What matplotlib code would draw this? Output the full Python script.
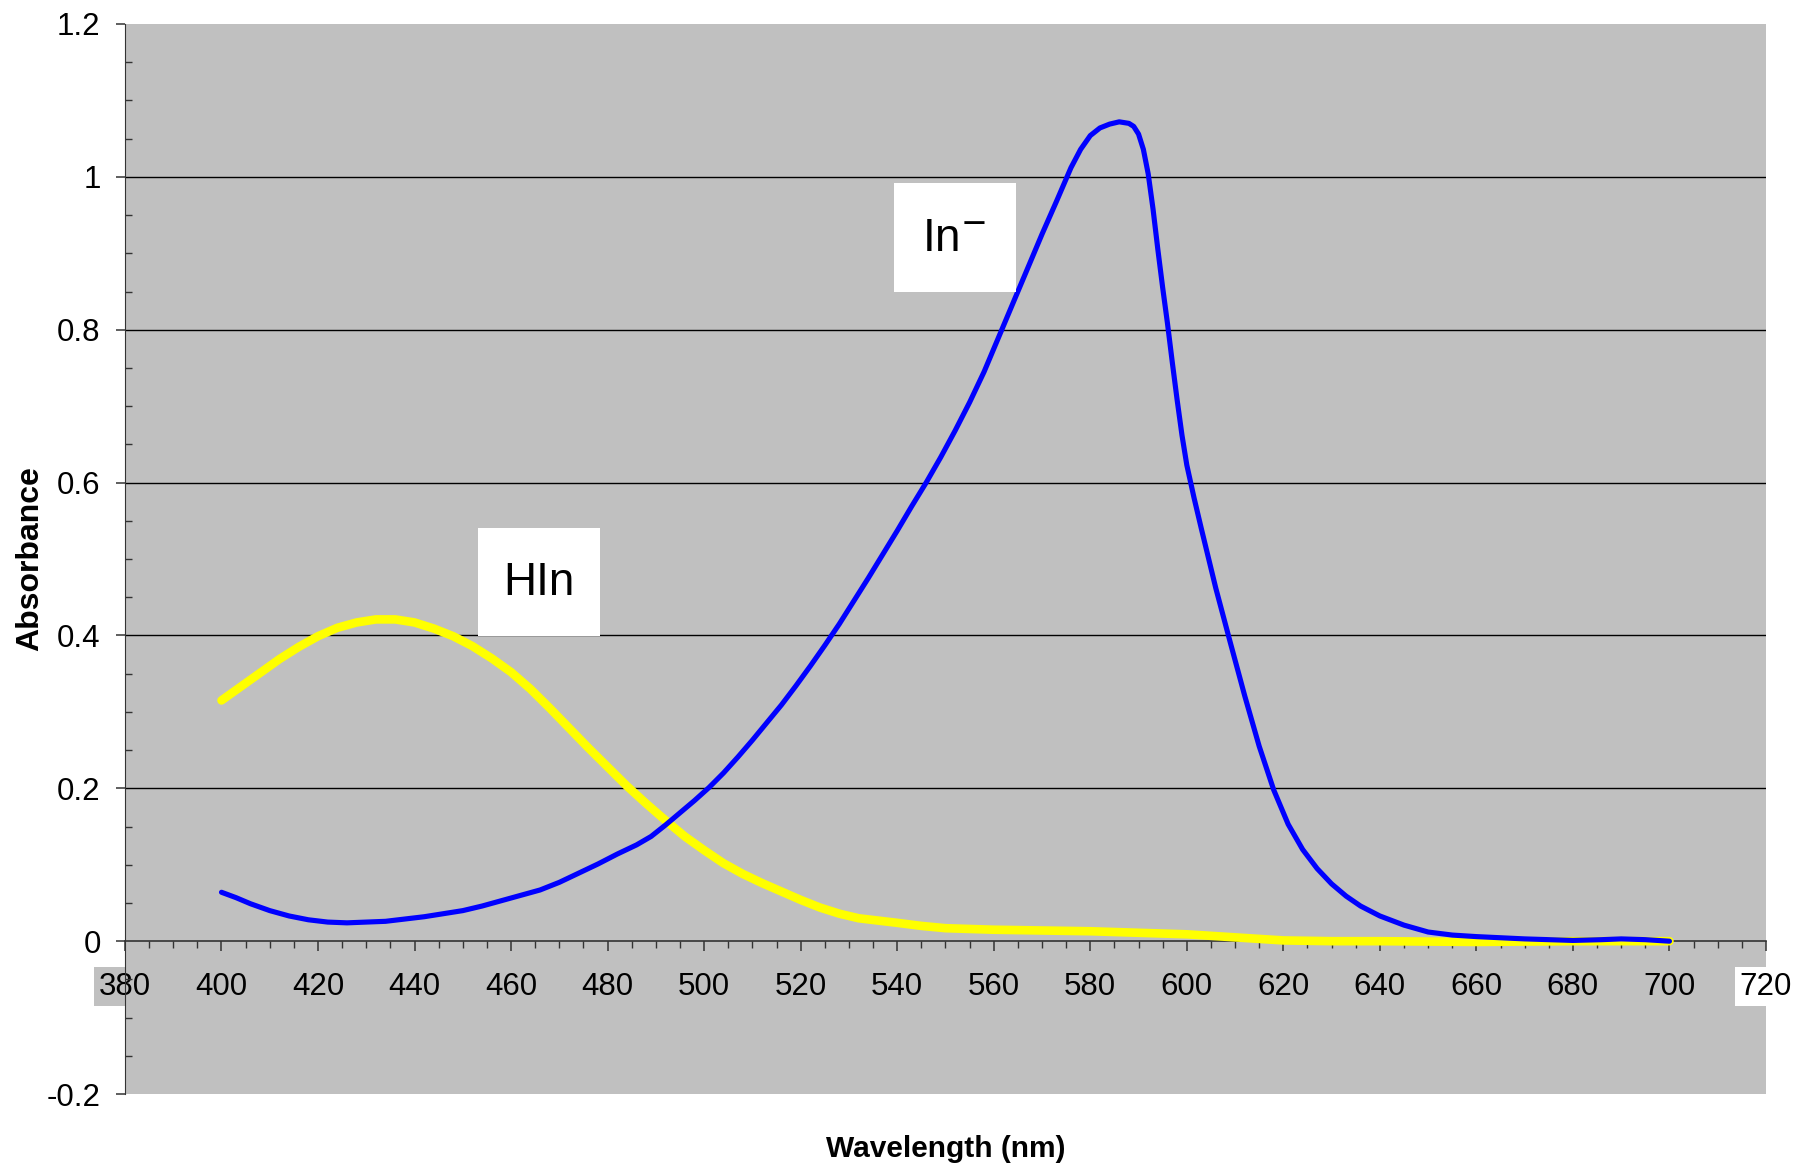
import matplotlib
matplotlib.use("Agg")
import matplotlib.pyplot as plt
from matplotlib.patches import Rectangle
from matplotlib.ticker import MultipleLocator

plt.rcParams['font.family'] = ['Liberation Sans', 'DejaVu Sans']

# In- (blue) spectrum
wl_in = [400, 403, 406, 410, 414, 418, 422, 426, 430, 434, 438, 442, 446, 450,
         454, 458, 462, 466, 470, 474, 478, 482, 486, 489, 492, 495, 498, 501,
         504, 507, 510, 513, 516, 519, 522, 525, 528, 531, 534, 537, 540, 543,
         546, 549, 552, 555, 558, 561, 564, 567, 570, 573, 576, 578, 580, 582,
         584, 586, 588, 589, 590, 591, 592, 593, 594, 595, 596, 597, 598, 599,
         600, 601.5, 603, 606, 609, 612, 615, 618, 621, 624, 627, 630, 633, 636,
         640, 645, 650, 655, 660, 670, 680, 686, 690, 695, 700]
abs_in = [0.064, 0.057, 0.049, 0.040, 0.033, 0.028, 0.025, 0.024, 0.025, 0.026,
          0.029, 0.032, 0.036, 0.040, 0.046, 0.053, 0.060, 0.067, 0.077, 0.089,
          0.101, 0.114, 0.126, 0.137, 0.152, 0.168, 0.184, 0.201, 0.220, 0.241,
          0.263, 0.286, 0.309, 0.334, 0.360, 0.387, 0.415, 0.445, 0.475, 0.506,
          0.537, 0.569, 0.600, 0.633, 0.668, 0.705, 0.745, 0.790, 0.835, 0.880,
          0.925, 0.968, 1.012, 1.036, 1.054, 1.064, 1.069, 1.072, 1.070, 1.066,
          1.056, 1.036, 1.004, 0.958, 0.905, 0.855, 0.808, 0.757, 0.708, 0.662,
          0.623, 0.580, 0.540, 0.462, 0.391, 0.321, 0.255, 0.198, 0.153, 0.120,
          0.095, 0.075, 0.059, 0.046, 0.033, 0.021, 0.012, 0.008, 0.006, 0.003,
          0.001, 0.002, 0.003, 0.002, 0.000]

# HIn (yellow) spectrum
wl_hin = [400, 404, 408, 412, 416, 420, 424, 428, 432, 436, 440, 444, 448, 452,
          456, 460, 464, 468, 472, 476, 480, 484, 488, 492, 496, 500, 504, 508,
          512, 516, 520, 524, 528, 532, 536, 540, 545, 550, 560, 570, 580, 590,
          600, 610, 615, 620, 630, 640, 660, 680, 700]
abs_hin = [0.315, 0.333, 0.351, 0.369, 0.385, 0.399, 0.410, 0.417, 0.421, 0.421,
           0.417, 0.409, 0.399, 0.386, 0.370, 0.352, 0.330, 0.305, 0.279, 0.253,
           0.228, 0.203, 0.180, 0.158, 0.137, 0.119, 0.102, 0.088, 0.076, 0.065,
           0.054, 0.044, 0.036, 0.030, 0.027, 0.024, 0.020, 0.017, 0.015, 0.014,
           0.013, 0.011, 0.009, 0.005, 0.003, 0.001, 0.000, 0.000, -0.001, 0.000,
           0.000]

x_ticks = list(range(380, 721, 20))
y_ticks = [-0.2, 0, 0.2, 0.4, 0.6, 0.8, 1.0, 1.2]
y_labels = ['-0.2', '0', '0.2', '0.4', '0.6', '0.8', '1', '1.2']

fig = plt.figure(figsize=(17.98, 11.65), dpi=100)
ax = fig.add_axes([0.0695, 0.0609, 0.9127, 0.9185])
ax.set_facecolor('#C0C0C0')

ax.plot(wl_hin, abs_hin, color='#FFFF00', lw=6.2, solid_capstyle='round',
        solid_joinstyle='round', zorder=3)
ax.plot(wl_in, abs_in, color='#0000FF', lw=3.7, solid_capstyle='round',
        solid_joinstyle='round', zorder=4)

ax.set_xlim(380, 720)
ax.set_ylim(-0.2, 1.2)

# gridlines only at the positive major ticks
for yv in y_ticks[2:-1]:
    ax.axhline(yv, color='black', lw=1.0, zorder=1)

ax.spines['top'].set_visible(False)
ax.spines['right'].set_visible(False)
ax.spines['bottom'].set_position(('data', 0))
ax.spines['left'].set_color('#333333')
ax.spines['bottom'].set_color('#333333')
ax.spines['bottom'].set_linewidth(1.2)

ax.set_xticks(x_ticks)
xl = ax.set_xticklabels([str(v) for v in x_ticks])
xl[0].set_bbox(dict(facecolor='#C0C0C0', edgecolor='none', pad=1.5))
xl[-1].set_bbox(dict(facecolor='white', edgecolor='none', pad=1.5))
ax.xaxis.set_minor_locator(MultipleLocator(5))
ax.set_yticks(y_ticks)
ax.set_yticklabels(y_labels)
ax.yaxis.set_minor_locator(MultipleLocator(0.05))

ax.tick_params(axis='x', which='major', direction='out', length=7, width=1.1,
               labelsize=22.5, pad=15, color='#333333')
ax.tick_params(axis='x', which='minor', direction='out', length=5, width=1.0,
               color='#333333')
ax.tick_params(axis='y', which='major', direction='out', length=6.5, width=1.1,
               labelsize=22.5, pad=11, color='#333333')
ax.tick_params(axis='y', which='minor', direction='in', length=5, width=1.0,
               color='#333333')

ax.set_xlabel('Wavelength (nm)', fontsize=21.5, fontweight='bold')
ax.xaxis.set_label_coords(0.5, -0.0515)
ax.xaxis.label.set_va('center')
ax.set_ylabel('Absorbance', fontsize=23, fontweight='bold')
ax.yaxis.set_label_coords(-0.058, 0.5)
ax.yaxis.label.set_va('center')

# white label boxes
ax.add_patch(Rectangle((453.2, 0.399), 25.2, 0.141, facecolor='white',
                       edgecolor='none', zorder=5))
ax.add_patch(Rectangle((539.3, 0.850), 25.3, 0.142, facecolor='white',
                       edgecolor='none', zorder=5))
ax.text(465.8, 0.468, 'HIn', fontsize=33, ha='center', va='center', zorder=6)
ax.text(551.8, 0.919, 'In$^{-}$', fontsize=33, ha='center', va='center', zorder=6)

fig.savefig('out.png', dpi=100)
